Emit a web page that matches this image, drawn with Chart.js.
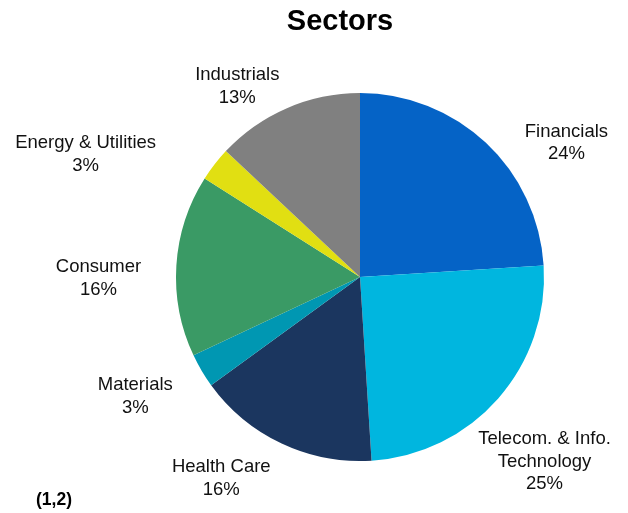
<!DOCTYPE html>
<html>
<head>
<meta charset="utf-8">
<script src="https://cdn.jsdelivr.net/npm/chart.js@4/dist/chart.umd.min.js"></script>
<style>
  html, body { margin: 0; padding: 0; background: #fff; }
  #wrap { width: 628px; height: 513px; position: relative; }
</style>
</head>
<body>
<div id="wrap"><canvas id="sectorsChart"></canvas></div>
<script>
// sector weights, clockwise from 12 o'clock
const sectors = ['Financials', 'Telecom. & Info.\nTechnology', 'Health Care', 'Materials', 'Consumer', 'Energy & Utilities', 'Industrials'];
const weights = [24, 25, 16, 3, 16, 3, 13];
const sliceColors = ['#0563C6', '#00B6DF', '#1B365F', '#0097B2', '#3A9A65', '#E1DF12', '#808080'];

// small per-label nudges (px) so labels sit where the layout puts them
const labelNudge = [[38, 45], [0, 22], [-34, -21], [-13, -6], [-16, 17], [-80, 28], [-25, 35]];

const sliceLabels = {
    id: 'sliceLabels',
    afterDatasetsDraw(chart) {
        const ctx = chart.ctx;
        const meta = chart.getDatasetMeta(0);
        ctx.save();
        ctx.fillStyle = '#111';
        ctx.font = '18.5px "Liberation Sans", Arial, sans-serif';
        ctx.textAlign = 'center';
        ctx.textBaseline = 'middle';
        meta.data.forEach((arc, i) => {
            const p = arc.getProps(['x', 'y', 'startAngle', 'endAngle', 'outerRadius'], true);
            const mid = (p.startAngle + p.endAngle) / 2;
            const d = p.outerRadius + 62;
            const cx = p.x + Math.cos(mid) * d + labelNudge[i][0];
            const cy = p.y + Math.sin(mid) * d + labelNudge[i][1];
            const lines = sectors[i].split('\n').concat([weights[i] + '%']);
            const lh = 22.5;
            const top = cy - (lines.length - 1) * lh / 2;
            lines.forEach((ln, k) => ctx.fillText(ln, cx, top + k * lh));
        });

        // heading and footnote
        ctx.fillStyle = '#000';
        ctx.font = 'bold 29px "Liberation Sans", Arial, sans-serif';
        ctx.fillText('Sectors', 340, 22);
        ctx.font = 'bold 17.5px "Liberation Sans", Arial, sans-serif';
        ctx.fillText('(1,2)', 54, 500);
        ctx.restore();
    }
};

const ctx = document.getElementById('sectorsChart').getContext('2d');
new Chart(ctx, {
    type: 'pie',
    data: {
        labels: sectors,
        datasets: [{
            data: weights,
            backgroundColor: sliceColors,
            borderWidth: 0
        }]
    },
    options: {
        responsive: true,
        maintainAspectRatio: false,
        animation: false,
        layout: { padding: { top: 93, bottom: 52, left: 176, right: 84 } },
        plugins: {
            legend: { display: false },
            tooltip: { enabled: false },
            title: { display: false }
        }
    },
    plugins: [sliceLabels]
});
</script>
</body>
</html>
